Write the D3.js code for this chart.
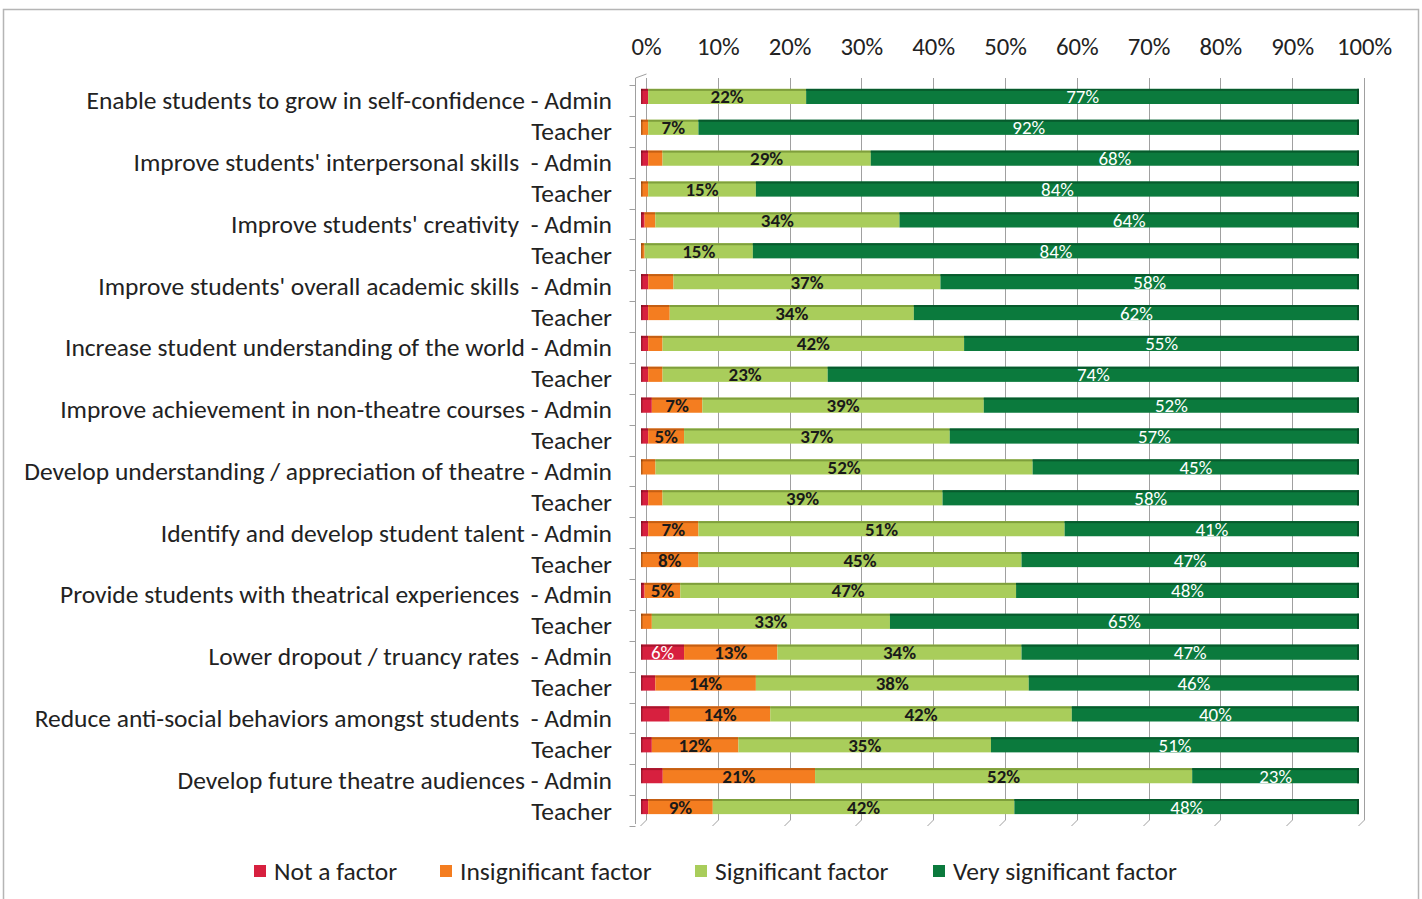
<!DOCTYPE html>
<html>
<head>
<meta charset="utf-8">
<script src="https://cdn.jsdelivr.net/npm/d3@7"></script>
<style>
  html, body { margin: 0; padding: 0; background: #fff; }
  svg { display: block; }
  text { font-family: Carlito, Lato, "Open Sans", sans-serif; }
</style>
</head>
<body>
<svg id="chart" width="1422" height="899"></svg>
<script>
// ---------- data ----------
const categories = [
  "Enable students to grow in self-confidence - Admin", "Teacher",
  "Improve students' interpersonal skills  - Admin", "Teacher",
  "Improve students' creativity  - Admin", "Teacher",
  "Improve students' overall academic skills  - Admin", "Teacher",
  "Increase student understanding of the world - Admin", "Teacher",
  "Improve achievement in non-theatre courses - Admin", "Teacher",
  "Develop understanding / appreciation of theatre - Admin", "Teacher",
  "Identify and develop student talent - Admin", "Teacher",
  "Provide students with theatrical experiences  - Admin", "Teacher",
  "Lower dropout / truancy rates  - Admin", "Teacher",
  "Reduce anti-social behaviors amongst students  - Admin", "Teacher",
  "Develop future theatre audiences - Admin", "Teacher"
];
const seriesNames = ["Not a factor", "Insignificant factor", "Significant factor", "Very significant factor"];
const notFactor       = [1, 0, 1, 0, 0.5, 0, 1, 1, 1, 1, 1.5, 1, 0, 1, 1, 0, 0.5, 0, 6, 2, 4, 1.5, 3, 1];
const insignificant   = [0, 1, 2, 1, 1.5, 0.5, 3.5, 3, 2, 2, 7, 5, 2, 2, 7, 8, 5, 1.5, 13, 14, 14, 12, 21, 9];
const significant     = [22, 7, 29, 15, 34, 15, 37, 34, 42, 23, 39, 37, 52, 39, 51, 45, 47, 33, 34, 38, 42, 35, 52, 42];
const verySignificant = [77, 92, 68, 84, 64, 84, 58, 62, 55, 74, 52, 57, 45, 58, 41, 47, 48, 65, 47, 46, 40, 51, 23, 48];
const tickValues = [0, 0.1, 0.2, 0.3, 0.4, 0.5, 0.6, 0.7, 0.8, 0.9, 1];

const colors = ["#d7203f", "#f47d20", "#a9cd5b", "#0b7a3d"];
const topShade = ["#a8142c", "#c45e12", "#7f9f3c", "#075a2c"];
const labelColors = ["#ffffff", "#1a1a1a", "#1a1a1a", "#ffffff"];
const labelWeights = ["normal", "bold", "bold", "normal"];

const rows = categories.map((c, i) => ({
  cat: c, idx: i,
  vals: [notFactor[i], insignificant[i], significant[i], verySignificant[i]]
}));

// ---------- layout ----------
const svg = d3.select("#chart");
svg.append("rect").attr("x", 3.5).attr("y", 9.5).attr("width", 1415).attr("height", 900)
  .attr("fill", "#fff").attr("stroke", "#b5b5b5").attr("stroke-width", 1.5);

const gridX = d3.scaleLinear().domain([0, 1]).range([646, 1364]);
const barShift = -5;          // 3D offset of the bars vs. back wall grid
const y = d3.scaleBand().domain(d3.range(categories.length)).range([81, 822]).paddingInner(0.51).paddingOuter(0.255);
const gridTop = 78, gridBottom = 820;

// grid lines (back wall + floor)
const grid = svg.append("g");
tickValues.forEach(t => {
  const gx = Math.round(gridX(t)) + 0.5;
  grid.append("line").attr("x1", gx).attr("x2", gx).attr("y1", gridTop).attr("y2", gridBottom)
    .attr("stroke", "#a0a0a0").attr("stroke-width", 1);
  grid.append("line").attr("x1", gx).attr("x2", gx - 6).attr("y1", gridBottom).attr("y2", gridBottom + 6)
    .attr("stroke", "#a0a0a0").attr("stroke-width", 1);
});

// top axis labels
const topAxis = d3.axisTop(gridX).tickValues(tickValues).tickFormat(d3.format(".0%")).tickSize(0).tickPadding(0);
const gTop = svg.append("g").attr("transform", "translate(0,55)").call(topAxis);
gTop.select(".domain").remove();
gTop.selectAll("text").attr("font-size", 24.7).attr("fill", "#222").attr("dy", 0)
  .style("font-family", "Carlito, Lato, 'Open Sans', sans-serif");

// left axis (3D side wall edge)
const leftX = 635.5;
svg.append("line").attr("x1", leftX).attr("x2", leftX).attr("y1", gridTop).attr("y2", 824)
  .attr("stroke", "#a0a0a0");
d3.range(categories.length + 1).forEach(i => {
  const by = Math.round(81 + i * y.step() + 4) + 0.5;
  svg.append("line").attr("x1", leftX - 6).attr("x2", leftX).attr("y1", by).attr("y2", by)
    .attr("stroke", "#a0a0a0");
});
svg.append("line").attr("x1", leftX).attr("x2", gridX(0) + 0.5).attr("y1", gridTop).attr("y2", gridTop - 4)
  .attr("stroke", "#a0a0a0");

// bars
const barsG = svg.append("g");
rows.forEach(r => {
  const total = d3.sum(r.vals);
  let cum = 0;
  const by = y(r.idx), bh = y.bandwidth();
  r.vals.forEach((v, s) => {
    const x0 = gridX(cum / total) + barShift;
    cum += v;
    const x1 = gridX(cum / total) + barShift;
    if (v <= 0) return;
    barsG.append("rect").attr("x", x0).attr("y", by).attr("width", Math.max(0, x1 - x0)).attr("height", bh)
      .attr("fill", colors[s]);
    barsG.append("rect").attr("x", x0).attr("y", by).attr("width", Math.max(0, x1 - x0)).attr("height", 2)
      .attr("fill", topShade[s]);
    if (v >= 5) {
      barsG.append("text").attr("x", (x0 + x1) / 2).attr("y", by + bh / 2 + 7)
        .attr("text-anchor", "middle").attr("font-size", 19)
        .attr("font-weight", labelWeights[s]).attr("fill", labelColors[s])
        .text(Math.round(v) + "%");
    }
  });
  const xe = gridX(1) + barShift;
  barsG.append("rect").attr("x", xe - 2).attr("y", by).attr("width", 2).attr("height", bh).attr("fill", "#064d26");
  barsG.append("rect").attr("x", gridX(0) + barShift).attr("y", by).attr("width", 1.5).attr("height", bh)
    .attr("fill", "#000").attr("opacity", 0.25);
});

// category labels
const labG = svg.append("g");
labG.selectAll("text").data(rows).join("text")
  .attr("x", 612).attr("y", d => y(d.idx) + y.bandwidth() / 2 + 13)
  .attr("text-anchor", "end").attr("font-size", 25.5).attr("fill", "#222")
  .style("white-space", "pre").attr("xml:space", "preserve")
  .text(d => d.cat);

// legend
const legendItems = [
  { name: seriesNames[0], x: 254 },
  { name: seriesNames[1], x: 440 },
  { name: seriesNames[2], x: 695 },
  { name: seriesNames[3], x: 933 }
];
const lg = svg.append("g");
legendItems.forEach((it, i) => {
  lg.append("rect").attr("x", it.x).attr("y", 865).attr("width", 12).attr("height", 12).attr("fill", colors[i]);
  lg.append("text").attr("x", it.x + 20).attr("y", 880).attr("font-size", 25.5).attr("fill", "#222").text(it.name);
});
</script>
</body>
</html>
